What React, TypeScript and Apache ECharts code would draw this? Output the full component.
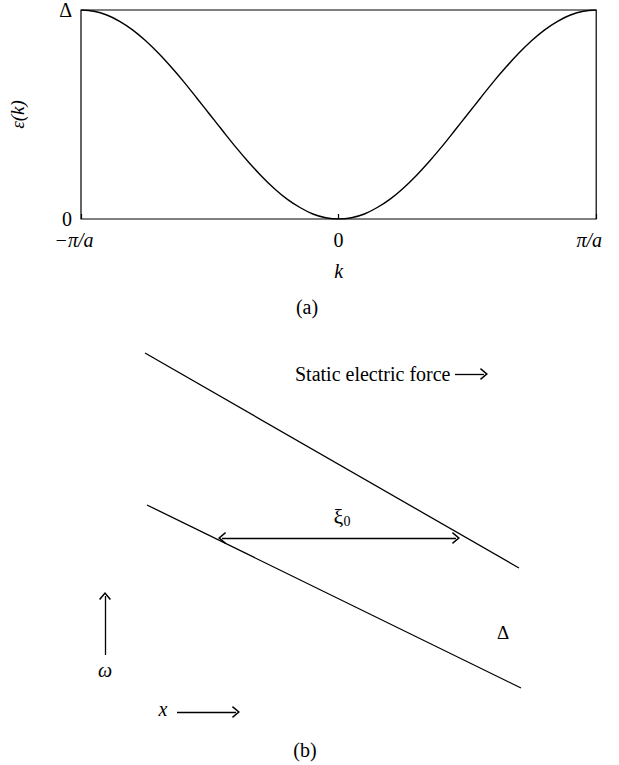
import React, { useEffect, useRef } from "react";
import * as echarts from "echarts";

// Panel (a): band dispersion, k in units of π/a, ε in units of Δ
const kValues = [
  -1, -0.95, -0.9, -0.85, -0.8, -0.75, -0.7, -0.65, -0.6, -0.55, -0.5, -0.45, -0.4, -0.35, -0.3, -0.25, -0.2, -0.15, -0.1, -0.05,
  0, 0.05, 0.1, 0.15, 0.2, 0.25, 0.3, 0.35, 0.4, 0.45, 0.5, 0.55, 0.6, 0.65, 0.7, 0.75, 0.8, 0.85, 0.9, 0.95, 1,
];
const epsValues = [
  1.0, 0.994, 0.976, 0.946, 0.905, 0.854, 0.794, 0.727, 0.655, 0.578, 0.5, 0.422, 0.345, 0.273, 0.206, 0.146, 0.095, 0.055, 0.024, 0.006,
  0.0, 0.006, 0.024, 0.055, 0.095, 0.146, 0.206, 0.273, 0.345, 0.422, 0.5, 0.578, 0.655, 0.727, 0.794, 0.854, 0.905, 0.946, 0.976, 0.994, 1.0,
];
const kTickLabels: Record<string, string> = { "-1": "{lo|−π/a}", "0": "0", "1": "{hi|π/a}" };
const epsTickLabels: Record<string, string> = { "0": "0", "1": "Δ" };

// Panel (b): tilted band edges in schematic (x, ω) space
const upperBand = [[145, 353], [519, 568]];
const lowerBand = [[147, 505], [521, 688]];
const gapArrow = [[222, 538], [456, 538]];
const omegaArrow = [[105, 655], [105, 596]];
const xArrow = [[177, 712], [236, 712]];
const forceArrow = [[455, 374], [484, 374]];

const FONT = "'Liberation Serif', 'DejaVu Serif', serif";
const chevron = "path://M5,0L10,8L9,9L5,2.6L1,9L0,8Z";

export default function App() {
  const ref = useRef<HTMLDivElement>(null);

  useEffect(() => {
    if (!ref.current) return;
    const chart = echarts.init(ref.current, undefined, { renderer: "svg" });

    const toPairs = (pts: number[][]) => [{ coord: pts[0] }, { coord: pts[1] }];

    chart.setOption({
      animation: false,
      backgroundColor: "#fff",
      textStyle: { fontFamily: FONT, color: "#000" },
      grid: [
        { left: 71, top: 7, width: 529, height: 212, show: true, borderColor: "#000", borderWidth: 1.2, backgroundColor: "transparent" },
        { left: 0, top: 0, width: 619, height: 765, show: false },
      ],
      xAxis: [
        {
          type: "value",
          gridIndex: 0,
          min: -1,
          max: 1,
          interval: 1,
          splitLine: { show: false },
          axisLine: { show: false },
          axisTick: { show: true, inside: true, length: 5, lineStyle: { color: "#000", width: 1.2 } },
          axisLabel: {
            margin: 11,
            fontSize: 20,
            lineHeight: 20,
            fontFamily: FONT,
            color: "#000",
            formatter: (v: number) => kTickLabels[String(v)] ?? "",
            rich: {
              lo: { fontSize: 20, lineHeight: 20, fontStyle: "italic", fontFamily: FONT, padding: [0, 14, 0, 0] },
              hi: { fontSize: 20, lineHeight: 20, fontStyle: "italic", fontFamily: FONT, padding: [0, 14, 0, 0] },
            },
          },
          name: "k",
          nameLocation: "middle",
          nameGap: 42,
          nameTextStyle: { fontSize: 20, fontStyle: "italic", fontFamily: FONT, color: "#000" },
        },
        { type: "value", gridIndex: 1, min: 0, max: 619, show: false },
      ],
      yAxis: [
        {
          type: "value",
          gridIndex: 0,
          min: 0,
          max: 1,
          interval: 1,
          splitLine: { show: false },
          axisLine: { show: false },
          axisTick: { show: false },
          axisLabel: {
            margin: 9,
            fontSize: 20,
            lineHeight: 16,
            fontFamily: FONT,
            color: "#000",
            formatter: (v: number) => epsTickLabels[String(v)] ?? "",
          },
          name: "ε(k)",
          nameLocation: "middle",
          nameGap: 54,
          nameRotate: 90,
          nameTextStyle: { fontSize: 19, fontStyle: "italic", fontFamily: FONT, color: "#000" },
        },
        { type: "value", gridIndex: 1, min: 0, max: 765, inverse: true, show: false },
      ],
      series: [
        {
          type: "line",
          xAxisIndex: 0,
          yAxisIndex: 0,
          data: kValues.map((k, i) => [k, epsValues[i]]),
          smooth: 0.3,
          symbol: "none",
          color: "#000",
          lineStyle: { color: "#000", width: 1.4 },
          silent: true,
        },
        {
          type: "line",
          xAxisIndex: 1,
          yAxisIndex: 1,
          data: upperBand,
          symbol: "none",
          color: "#000",
          lineStyle: { color: "#000", width: 1.3 },
          silent: true,
          markLine: {
            silent: true,
            animation: false,
            symbol: ["none", chevron],
            symbolSize: [12, 8],
            label: { show: false },
            itemStyle: { color: "#000" },
            lineStyle: { color: "#000", width: 1.3, type: "solid" },
            emphasis: { disabled: true },
            data: [
              [{ coord: gapArrow[0], symbol: chevron }, { coord: gapArrow[1] }],
              toPairs(omegaArrow),
              toPairs(xArrow),
              toPairs(forceArrow),
            ],
          },
        },
        {
          type: "line",
          xAxisIndex: 1,
          yAxisIndex: 1,
          data: lowerBand,
          symbol: "none",
          color: "#000",
          lineStyle: { color: "#000", width: 1.3 },
          silent: true,
        },
      ],
      graphic: [
        { type: "text", x: 307, y: 307, style: { text: "(a)", fontSize: 20, fontFamily: FONT, fill: "#000", align: "center", verticalAlign: "middle" } },
        { type: "text", x: 305, y: 750, style: { text: "(b)", fontSize: 20, fontFamily: FONT, fill: "#000", align: "center", verticalAlign: "middle" } },
        { type: "text", x: 295, y: 374, style: { text: "Static electric force", fontSize: 20, fontFamily: FONT, fill: "#000", align: "left", verticalAlign: "middle" } },
        {
          type: "text",
          x: 342,
          y: 516,
          style: {
            text: "{g|ξ}{s|0}",
            fontFamily: FONT,
            fill: "#000",
            align: "center",
            verticalAlign: "middle",
            rich: {
              g: { fontSize: 22, fontFamily: FONT, fill: "#000" },
              s: { fontSize: 14, fontFamily: FONT, fill: "#000", padding: [10, 0, 0, 0] },
            },
          },
        },
        { type: "text", x: 503, y: 632, style: { text: "Δ", fontSize: 19, fontFamily: FONT, fill: "#000", align: "center", verticalAlign: "middle" } },
        { type: "text", x: 105, y: 670, style: { text: "ω", fontSize: 20, fontStyle: "italic", fontFamily: FONT, fill: "#000", align: "center", verticalAlign: "middle" } },
        { type: "text", x: 163, y: 709, style: { text: "x", fontSize: 20, fontStyle: "italic", fontFamily: FONT, fill: "#000", align: "center", verticalAlign: "middle" } },
      ],
    });

    return () => chart.dispose();
  }, []);

  return (
    <div
      ref={ref}
      style={{ position: "absolute", left: 0, top: 0, width: 619, height: 765, background: "#fff" }}
    />
  );
}
